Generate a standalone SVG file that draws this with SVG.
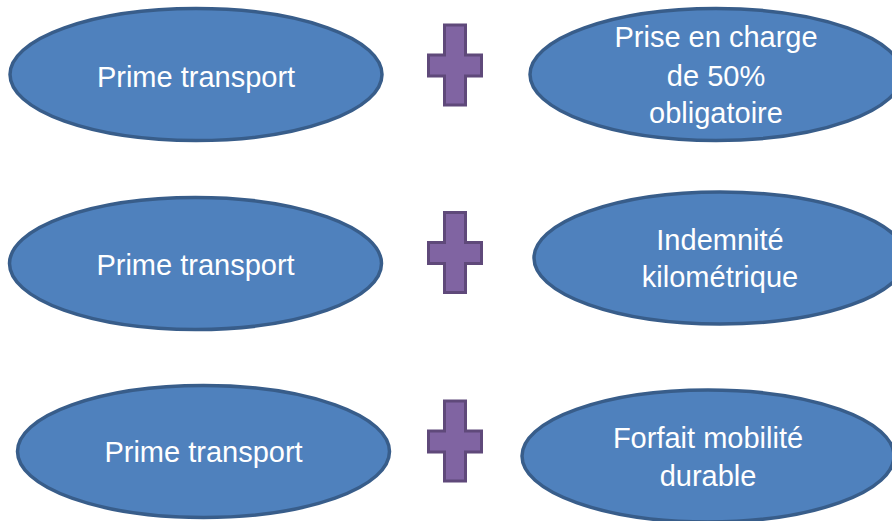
<svg xmlns="http://www.w3.org/2000/svg" width="892" height="521" viewBox="0 0 892 521">
<defs>
<style>
.oval{fill:#4f81bd;stroke:#385d8a;stroke-width:3.5}
.plus{fill:#8064a2;stroke:#5f497a;stroke-width:3}
.lbl{fill:#ffffff;font-family:"Liberation Sans",Arial,sans-serif;font-size:29px;text-anchor:middle}
</style>
<path id="plusShape" d="M0 0 H21 V30 H37 V51 H21 V80 H0 V51 H-16 V30 H0 Z"/>
</defs>
<rect width="892" height="521" fill="#ffffff"/>
<g id="connectors"></g>
<g id="left1"><ellipse class="oval" cx="196" cy="74.5" rx="186" ry="66"/><text class="lbl" x="196" y="87">Prime transport</text></g>
<g id="plus1"><use href="#plusShape" class="plus" x="444.5" y="25"/></g>
<g id="right1"><ellipse class="oval" cx="716" cy="74.5" rx="186" ry="66"/><text class="lbl" x="716"><tspan x="716" y="47">Prise en charge</tspan><tspan x="716" y="86">de 50%</tspan><tspan x="716" y="123">obligatoire</tspan></text></g>
<g id="left2"><ellipse class="oval" cx="195.5" cy="263.5" rx="186" ry="66"/><text class="lbl" x="195.5" y="275">Prime transport</text></g>
<g id="plus2"><use href="#plusShape" class="plus" x="444.5" y="212.5"/></g>
<g id="right2"><ellipse class="oval" cx="720" cy="258" rx="186" ry="66"/><text class="lbl"><tspan x="720" y="250">Indemnité</tspan><tspan x="720" y="287">kilométrique</tspan></text></g>
<g id="left3"><ellipse class="oval" cx="203.5" cy="451.5" rx="186" ry="66"/><text class="lbl" x="203.5" y="462">Prime transport</text></g>
<g id="plus3"><use href="#plusShape" class="plus" x="444.5" y="401"/></g>
<g id="right3"><ellipse class="oval" cx="708" cy="456" rx="186" ry="66"/><text class="lbl"><tspan x="708" y="448">Forfait mobilité</tspan><tspan x="708" y="486">durable</tspan></text></g>
</svg>
